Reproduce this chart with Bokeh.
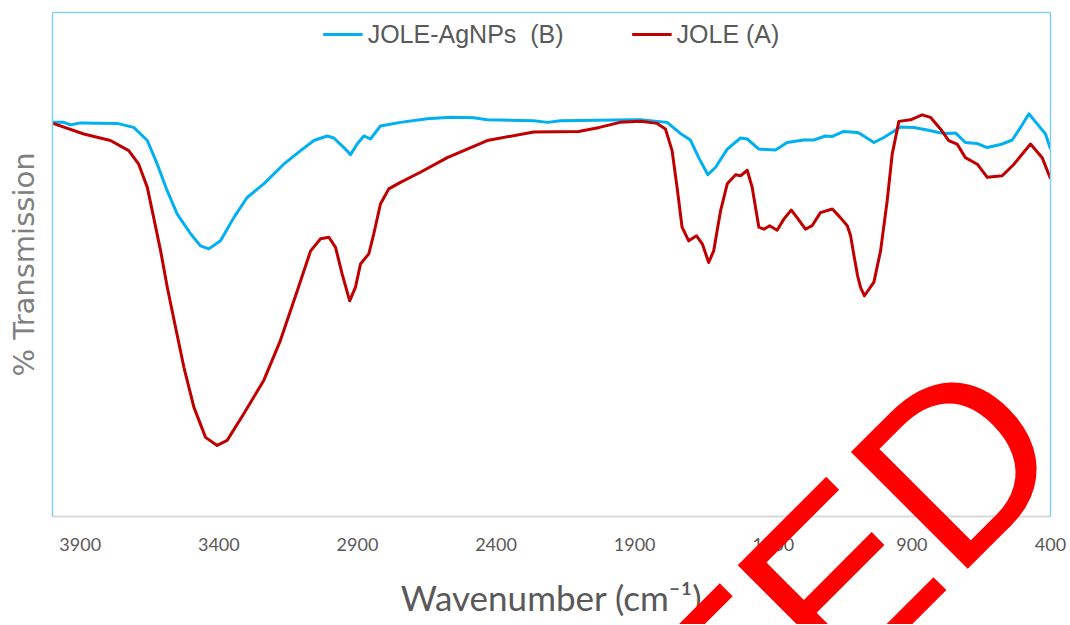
import math
from bokeh.plotting import figure
from bokeh.models import Range1d, FixedTicker, LinearAxis, Legend, LegendItem
from bokeh.core.properties import value
from bokeh.embed import file_html
from bokeh.resources import INLINE

# JOLE (A)
wn_jole = [3998, 3887, 3791, 3725, 3689, 3658, 3635, 3610, 3586, 3556,
           3526, 3490, 3448, 3406, 3370, 3310, 3238, 3178, 3117, 3069,
           3033, 3003, 2979, 2955, 2928, 2907, 2889, 2859, 2841, 2817,
           2787, 2745, 2673, 2576, 2432, 2264, 2102, 2027, 1953, 1879,
           1819, 1789, 1765, 1747, 1729, 1705, 1677, 1656, 1633, 1615,
           1590, 1566, 1536, 1518, 1494, 1476, 1452, 1434, 1413, 1386,
           1362, 1335, 1314, 1284, 1260, 1230, 1187, 1158, 1133, 1121,
           1110, 1096, 1085, 1071, 1037, 1013, 989, 971, 947, 905,
           863, 833, 797, 767, 737, 707, 664, 628, 574, 532,
           472, 430, 400]
t_jole = [78.0, 75.9, 74.6, 72.6, 69.9, 65.3, 59.3, 52.7, 45.5, 37.5,
          29.6, 21.7, 15.7, 14.1, 15.1, 20.4, 27.0, 34.9, 44.8, 52.7,
          55.1, 55.4, 53.4, 48.1, 42.8, 45.5, 50.1, 52.1, 56.1, 62.0,
          65.0, 66.3, 68.3, 71.2, 74.6, 76.3, 76.4, 77.2, 78.2, 78.4,
          78.0, 76.9, 72.6, 65.3, 57.4, 54.7, 55.7, 54.1, 50.4, 52.7,
          60.7, 66.0, 67.8, 67.6, 68.7, 65.3, 57.4, 57.0, 57.7, 56.8,
          59.0, 60.8, 59.3, 57.0, 57.7, 60.3, 61.0, 59.3, 57.7, 55.7,
          52.1, 47.8, 45.4, 43.8, 46.5, 52.7, 62.7, 71.9, 78.4, 78.7,
          79.7, 79.2, 76.9, 74.6, 73.9, 71.2, 69.9, 67.3, 67.6, 69.9,
          73.9, 71.2, 67.0]

# JOLE-AgNPs (B)
wn_agnps = [3998, 3959, 3935, 3899, 3767, 3707, 3658, 3622, 3586, 3550,
            3502, 3466, 3436, 3394, 3346, 3298, 3238, 3166, 3105, 3057,
            3009, 2985, 2949, 2925, 2901, 2877, 2853, 2817, 2745, 2648,
            2564, 2480, 2432, 2264, 2214, 2168, 1903, 1879, 1783, 1735,
            1699, 1669, 1636, 1608, 1566, 1518, 1494, 1452, 1392, 1350,
            1290, 1254, 1212, 1187, 1146, 1097, 1085, 1037, 1001, 941,
            893, 845, 803, 773, 743, 707, 664, 628, 580, 538,
            508, 478, 448, 418, 400]
t_agnps = [78.2, 78.2, 77.7, 78.1, 78.0, 77.2, 74.6, 69.9, 64.6, 60.0,
           56.1, 53.7, 53.1, 54.7, 59.3, 63.3, 66.0, 69.9, 72.6, 74.6,
           75.5, 75.1, 73.2, 71.8, 73.9, 75.5, 74.9, 77.5, 78.2, 78.9,
           79.2, 79.1, 78.7, 78.5, 78.2, 78.5, 78.7, 78.7, 78.2, 76.0,
           74.7, 71.2, 67.8, 69.3, 72.9, 75.1, 74.9, 72.9, 72.7, 74.2,
           74.7, 74.7, 75.5, 75.4, 76.4, 76.2, 75.9, 74.2, 75.2, 77.3,
           77.2, 76.7, 76.2, 76.0, 76.1, 74.2, 74.0, 73.2, 73.8, 74.7,
           77.2, 79.9, 77.9, 75.9, 72.9]

x_ticks = [3900, 3400, 2900, 2400, 1900, 1400, 900, 400]
label_a = "JOLE (A)"
label_b = "JOLE-AgNPs  (B)"
x_title = "Wavenumber (cm\u207b\u00b9)"
y_title = "% Transmission"
stamp_text = ["RETRACTED"]
stamp_x, stamp_y = [519.0], [22.8]

BLUE = "#00B0F0"
RED = "#C00000"
FRAME = "#86D0F0"
GRAY = "#595959"

p = figure(width=1068, height=624, output_backend="svg", toolbar_location=None,
           x_range=Range1d(4000, 400), y_range=Range1d(0, 100),
           min_border_left=52, min_border_right=18, min_border_top=12,
           min_border_bottom=108)
p.xgrid.visible = False
p.ygrid.visible = False
p.outline_line_color = None
p.background_fill_color = "white"
p.border_fill_color = "white"

xa = p.xaxis[0]
xa.ticker = FixedTicker(ticks=x_ticks)
xa.major_tick_line_color = None
xa.minor_tick_line_color = None
xa.major_tick_out = 0
xa.major_tick_in = 0
xa.axis_line_color = "#D9D9D9"
xa.axis_line_width = 2
xa.major_label_text_font = "Lato"
xa.major_label_text_font_size = "18px"
xa.major_label_text_color = GRAY
xa.major_label_standoff = 21
xa.axis_label = x_title
xa.axis_label_text_font = "Lato"
xa.axis_label_text_font_size = "35px"
xa.axis_label_text_font_style = "normal"
xa.axis_label_text_color = GRAY
xa.axis_label_standoff = 22

ya = p.yaxis[0]
ya.ticker = FixedTicker(ticks=[])
ya.major_tick_line_color = None
ya.minor_tick_line_color = None
ya.major_tick_out = 0
ya.major_tick_in = 0
ya.major_label_standoff = 0
ya.axis_line_color = FRAME
ya.axis_line_width = 1.5
ya.axis_label = y_title
ya.axis_label_text_font = "DejaVu Sans"
ya.axis_label_text_font_size = "29px"
ya.axis_label_text_font_style = "normal"
ya.axis_label_text_color = "#808080"
ya.axis_label_standoff = 12

for side in ("above", "right"):
    ax = LinearAxis(ticker=FixedTicker(ticks=[]), axis_line_color=FRAME, axis_line_width=1.5,
                    major_tick_line_color=None, minor_tick_line_color=None,
                    major_tick_out=0, major_tick_in=0, major_label_standoff=0)
    p.add_layout(ax, side)

r_b = p.line(wn_agnps, t_agnps, line_color=BLUE, line_width=3, line_join="round")
r_a = p.line(wn_jole, t_jole, line_color=RED, line_width=3, line_join="round")

legend = Legend(items=[LegendItem(label=label_b, renderers=[r_b]),
                       LegendItem(label=label_a, renderers=[r_a])],
                location="top_center", orientation="horizontal",
                border_line_color=None, background_fill_alpha=0,
                label_text_font="Liberation Sans", label_text_font_size="25px",
                label_text_color=GRAY, glyph_width=40, glyph_height=30,
                label_standoff=5, spacing=68, padding=10, margin=7)
p.add_layout(legend)

# retraction stamp overlaid on the figure (drawn unclipped)
p.text(x=stamp_x, y=stamp_y, text=stamp_text, angle=math.pi / 4,
       text_align="right", text_baseline="alphabetic",
       text_font=value("Liberation Sans"), text_font_size="240px",
       text_color="#FF0000", level="overlay")

open("out.html", "w").write(file_html(p, INLINE))
